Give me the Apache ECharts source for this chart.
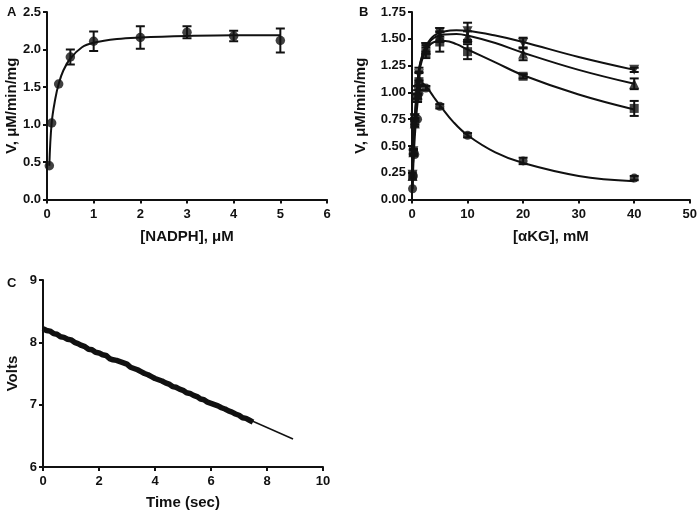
<!DOCTYPE html>
<html><head><meta charset="utf-8">
<script src="https://cdn.jsdelivr.net/npm/echarts@6/dist/echarts.min.js"></script>
<style>html,body{margin:0;padding:0;background:#fff}#c{width:700px;height:511px}</style>
</head><body><div id="c"></div>
<script>
// ---- Panel A data ----
const nadphX = [0.05, 0.1, 0.25, 0.5, 1, 2, 3, 4, 5];
const nadphV = [0.45, 1.02, 1.54, 1.90, 2.11, 2.16, 2.23, 2.18, 2.12];
const nadphErr = [0, 0, 0, 0.10, 0.13, 0.15, 0.08, 0.07, 0.16];
const nadphFitX = [0.05, 0.1, 0.18, 0.25, 0.35, 0.5, 0.75, 1, 1.5, 2, 3, 4, 5];
const nadphFitV = [0.45, 1.02, 1.35, 1.54, 1.72, 1.88, 2.03, 2.09, 2.14, 2.16, 2.18, 2.19, 2.19];

// ---- Panel B data ----
const akgX = [0.1, 0.25, 0.5, 1, 1.25, 2.5, 5, 10, 20, 40];
const circV = [0.10, 0.22, 0.42, 0.75, 0.99, 1.04, 0.87, 0.60, 0.36, 0.20];
const circErr = [0, 0, 0, 0, 0, 0.02, 0.02, 0.02, 0.03, 0.02];
const sqV = [0.22, 0.44, 0.73, 0.95, 1.10, 1.37, 1.47, 1.38, 1.15, 0.85];
const sqErr = [0, 0.02, 0.03, 0.04, 0.08, 0.05, 0.09, 0.07, 0.02, 0.07];
const tuV = [0.22, 0.44, 0.71, 0.98, 1.13, 1.40, 1.52, 1.52, 1.36, 1.08];
const tuErr = [0, 0.02, 0.03, 0.04, 0.06, 0.04, 0.05, 0.05, 0.06, 0.05];
const tdV = [0.23, 0.45, 0.76, 1.02, 1.17, 1.42, 1.56, 1.57, 1.46, 1.21];
const tdErr = [0, 0.02, 0.03, 0.04, 0.06, 0.04, 0.04, 0.08, 0.05, 0.02];

const circFitX = [0.05, 0.25, 0.5, 1, 1.5, 2, 2.5, 4, 5, 7.5, 10, 15, 20, 30, 40];
const circFitV = [0.08, 0.33, 0.58, 0.90, 1.04, 1.08, 1.06, 0.95, 0.88, 0.72, 0.60, 0.44, 0.34, 0.22, 0.17];
const sqFitX = [0.05, 0.25, 0.5, 1, 1.5, 2.5, 4, 6, 8, 10, 15, 20, 30, 40];
const sqFitV = [0.10, 0.44, 0.72, 1.06, 1.24, 1.39, 1.47, 1.48, 1.45, 1.40, 1.28, 1.16, 0.98, 0.84];
const tuFitV = [0.10, 0.44, 0.73, 1.09, 1.27, 1.42, 1.51, 1.54, 1.545, 1.53, 1.46, 1.37, 1.21, 1.08];
const tdFitV = [0.10, 0.45, 0.75, 1.11, 1.28, 1.43, 1.53, 1.57, 1.58, 1.575, 1.53, 1.47, 1.33, 1.21];

// ---- Panel C data (hand-read trace, 0.125 s steps) ----
const timeX = [0, 0.125, 0.25, 0.375, 0.5, 0.625, 0.75, 0.875, 1, 1.125, 1.25, 1.375, 1.5, 1.625, 1.75, 1.875, 2, 2.125, 2.25, 2.375, 2.5, 2.625, 2.75, 2.875, 3, 3.125, 3.25, 3.375, 3.5, 3.625, 3.75, 3.875, 4, 4.125, 4.25, 4.375, 4.5, 4.625, 4.75, 4.875, 5, 5.125, 5.25, 5.375, 5.5, 5.625, 5.75, 5.875, 6, 6.125, 6.25, 6.375, 6.5, 6.625, 6.75, 6.875, 7, 7.125, 7.25, 7.375, 7.5];
const voltsY = [8.22, 8.19, 8.18, 8.14, 8.13, 8.09, 8.08, 8.05, 8.04, 8.00, 7.98, 7.95, 7.93, 7.89, 7.88, 7.84, 7.83, 7.80, 7.79, 7.74, 7.72, 7.71, 7.69, 7.67, 7.65, 7.60, 7.58, 7.56, 7.53, 7.50, 7.48, 7.45, 7.42, 7.40, 7.38, 7.35, 7.33, 7.29, 7.28, 7.25, 7.23, 7.19, 7.18, 7.15, 7.13, 7.09, 7.08, 7.04, 7.02, 7.00, 6.98, 6.95, 6.93, 6.90, 6.88, 6.85, 6.83, 6.79, 6.78, 6.75, 6.72];
const fitTimeX = [0, 8.93];
const fitVoltsY = [8.22, 6.45];

const FONT = 'Liberation Sans';
const INK = '#111';
const zip = (xs, ys) => xs.map((x, i) => [x, ys[i]]);
const errData = (xs, ys, es) => xs.map((x, i) => [x, ys[i] - es[i], ys[i] + es[i]]).filter((d, i) => es[i] > 0);

function errSeries(xi, yi, data) {
  return {
    type: 'custom', xAxisIndex: xi, yAxisIndex: yi, data: data, z: 3,
    renderItem: function (params, api) {
      const lo = api.coord([api.value(0), api.value(1)]);
      const hi = api.coord([api.value(0), api.value(2)]);
      const w = 4.5;
      const st = { stroke: INK, lineWidth: 2, fill: null };
      return { type: 'group', children: [
        { type: 'line', shape: { x1: lo[0], y1: lo[1], x2: hi[0], y2: hi[1] }, style: st },
        { type: 'line', shape: { x1: lo[0] - w, y1: lo[1], x2: lo[0] + w, y2: lo[1] }, style: st },
        { type: 'line', shape: { x1: hi[0] - w, y1: hi[1], x2: hi[0] + w, y2: hi[1] }, style: st }
      ]};
    }
  };
}
function fitLine(xi, yi, data) {
  return { type: 'line', xAxisIndex: xi, yAxisIndex: yi, data: data, smooth: 0.4, showSymbol: false,
    lineStyle: { color: INK, width: 2 }, z: 2 };
}
function pts(xi, yi, data, sym, size, rot) {
  return { type: 'scatter', xAxisIndex: xi, yAxisIndex: yi, data: data, symbol: sym, symbolSize: size,
    symbolRotate: rot || 0, itemStyle: { color: INK }, z: 4 };
}
const axLine = { show: true, lineStyle: { color: INK, width: 2 } };
const axTick = { show: true, inside: false, length: 4, lineStyle: { color: INK, width: 2 } };
const lbl = { color: INK, fontFamily: FONT, fontWeight: 'bold', fontSize: 13 };
const nameSt = { color: INK, fontFamily: FONT, fontWeight: 'bold', fontSize: 15 };
function xAx(gi, min, max, interval, name, gap) {
  return { type: 'value', gridIndex: gi, min, max, interval, name, nameLocation: 'middle', nameGap: gap,
    nameTextStyle: nameSt, axisLine: axLine, axisTick: axTick, axisLabel: Object.assign({ margin: 8 }, lbl),
    splitLine: { show: false } };
}
function yAx(gi, min, max, interval, name, gap, dec) {
  return { type: 'value', gridIndex: gi, min, max, interval, name, nameLocation: 'middle', nameGap: gap,
    nameTextStyle: nameSt, axisLine: axLine, axisTick: axTick,
    axisLabel: Object.assign({ margin: 6, formatter: v => v.toFixed(dec) }, lbl),
    splitLine: { show: false } };
}
const letterSt = { fontFamily: FONT, fontWeight: 'bold', fontSize: 13, color: INK };

const chart = echarts.init(document.getElementById('c'), null, { renderer: 'canvas' });
chart.setOption({
  animation: false,
  backgroundColor: '#fff',
  title: [
    { text: 'A', left: 2, top: 1, textStyle: letterSt },
    { text: 'B', left: 354, top: 1, textStyle: letterSt },
    { text: 'C', left: 2, top: 272, textStyle: letterSt }
  ],
  grid: [
    { left: 47, top: 12, width: 280, height: 187.5 },
    { left: 412, top: 12, width: 281, height: 187.5 },
    { left: 43, top: 280, width: 280, height: 187 }
  ],
  xAxis: [
    xAx(0, 0, 6, 1, '[NADPH], μM', 30),
    xAx(1, 0, 50, 10, '[αKG], mM', 30),
    xAx(2, 0, 10, 2, 'Time (sec)', 28)
  ],
  yAxis: [
    yAx(0, 0, 2.5, 0.5, 'V, μM/min/mg', 27, 1),
    yAx(1, 0, 1.75, 0.25, 'V, μM/min/mg', 44, 2),
    yAx(2, 6, 9, 1, 'Volts', 23, 0)
  ],
  series: [
    fitLine(0, 0, zip(nadphFitX, nadphFitV)),
    errSeries(0, 0, errData(nadphX, nadphV, nadphErr)),
    pts(0, 0, zip(nadphX, nadphV), 'circle', 9.5),

    fitLine(1, 1, zip(circFitX, circFitV)),
    fitLine(1, 1, zip(sqFitX, sqFitV)),
    fitLine(1, 1, zip(sqFitX, tuFitV)),
    fitLine(1, 1, zip(sqFitX, tdFitV)),
    errSeries(1, 1, errData(akgX, circV, circErr)),
    errSeries(1, 1, errData(akgX, sqV, sqErr)),
    errSeries(1, 1, errData(akgX, tuV, tuErr)),
    errSeries(1, 1, errData(akgX, tdV, tdErr)),
    pts(1, 1, zip(akgX, circV), 'circle', 9),
    pts(1, 1, zip(akgX, sqV), 'rect', 9),
    pts(1, 1, zip(akgX, tuV), 'triangle', 10),
    pts(1, 1, zip(akgX, tdV), 'triangle', 10, 180),

    { type: 'line', xAxisIndex: 2, yAxisIndex: 2, data: zip(fitTimeX, fitVoltsY), showSymbol: false,
      lineStyle: { color: INK, width: 1.5 }, z: 2 },
    { type: 'line', xAxisIndex: 2, yAxisIndex: 2, data: zip(timeX, voltsY), showSymbol: false,
      lineStyle: { color: INK, width: 5.5, join: 'bevel' }, z: 3 }
  ]
});
</script></body></html>
